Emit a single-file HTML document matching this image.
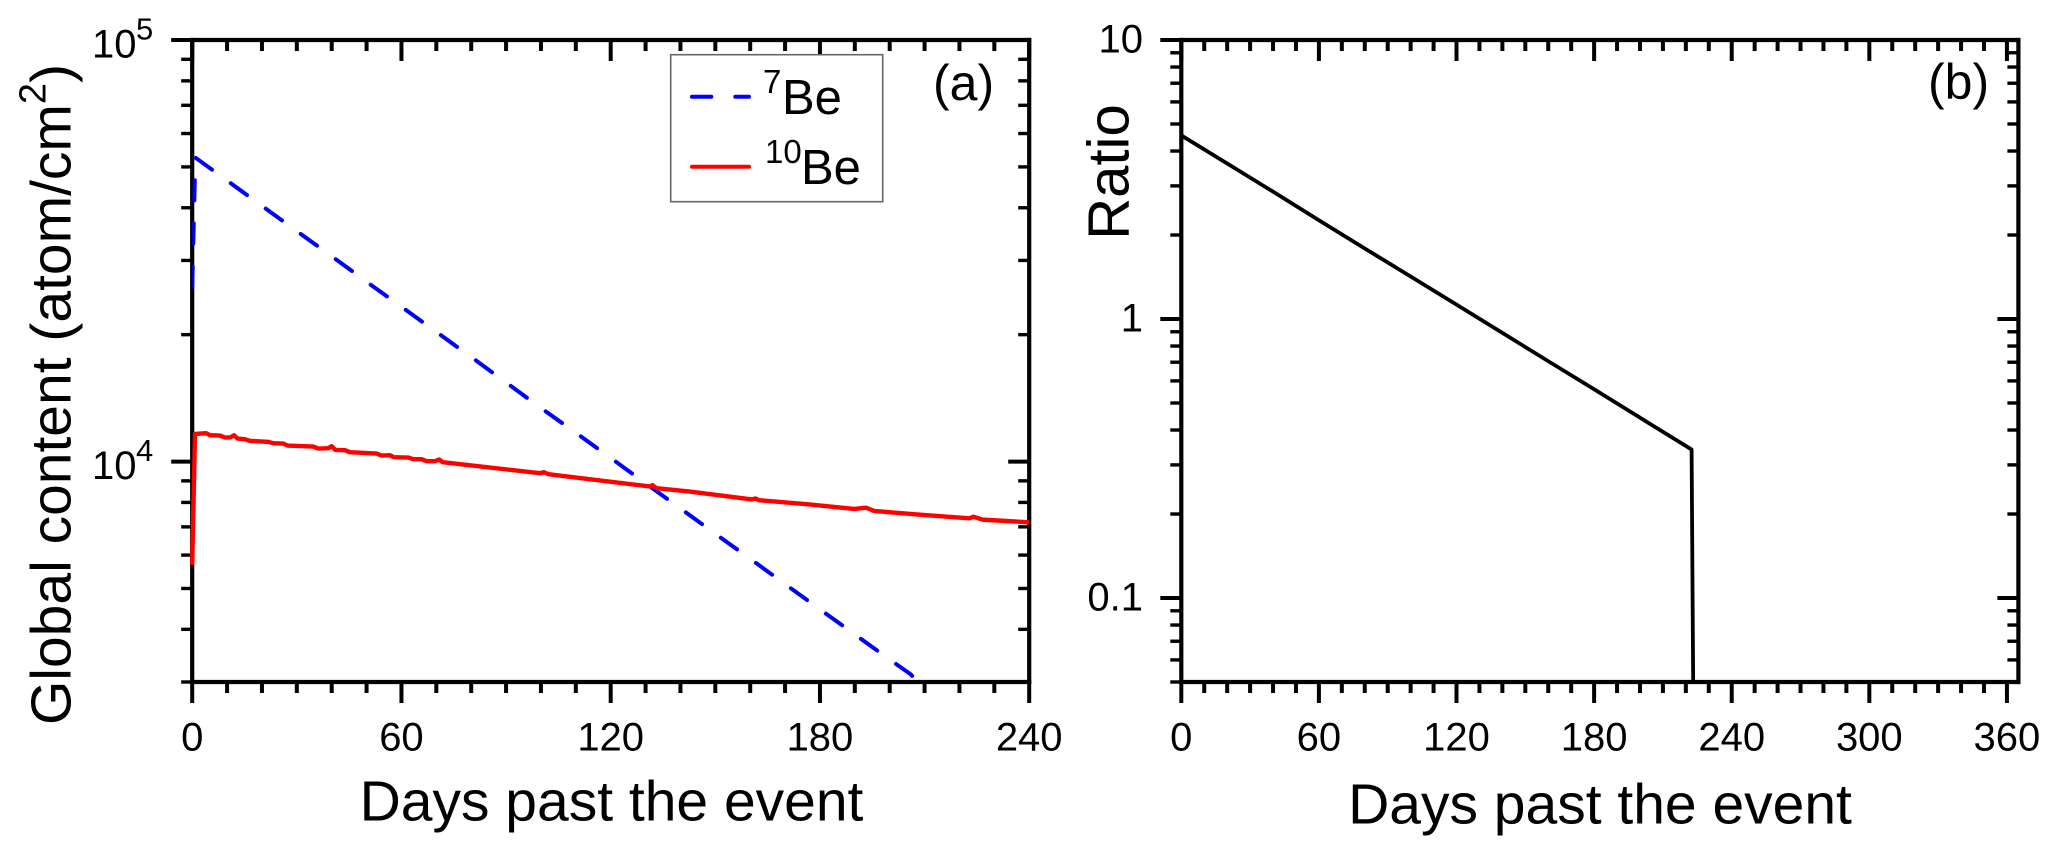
<!DOCTYPE html>
<html lang="en">
<head>
<meta charset="utf-8">
<title>Global content and ratio of beryllium isotopes</title>
<style>
html,body{margin:0;padding:0;background:#fff;width:2059px;height:854px;overflow:hidden}
svg{display:block}
text{font-family:"Liberation Sans",Arial,sans-serif;fill:#000}
</style>
</head>
<body>
<svg id="figure" width="2059" height="854" viewBox="0 0 2059 854" xmlns="http://www.w3.org/2000/svg">
  <defs>
    <clipPath id="clip-a-blue"><rect x="192.2" y="38" width="837" height="644"/></clipPath>
    <clipPath id="clip-a-red"><rect x="190" y="38" width="839.2" height="644"/></clipPath>
    <clipPath id="clip-b"><rect x="1181" y="38" width="837" height="645"/></clipPath>
  </defs>
  <rect x="0" y="0" width="2059" height="854" fill="#fff"/>
  <g id="panel-a"></g>
  <g id="panel-b"></g>

  <text x="611.5" y="820.5" font-size="57" text-anchor="middle">Days past the event</text>
  <text x="1600" y="823.5" font-size="57" text-anchor="middle">Days past the event</text>
  <text transform="translate(70.5 394.5) rotate(-90)" font-size="57" text-anchor="middle">Global content (atom/cm<tspan font-size="38" dy="-25">2</tspan><tspan dy="25">)</tspan></text>
  <text transform="translate(1128.5 172) rotate(-90)" font-size="58" text-anchor="middle">Ratio</text>
  <text x="933" y="100" font-size="50">(a)</text>
  <text x="1928" y="99" font-size="50">(b)</text>

  <g>
    <rect x="670.7" y="54.7" width="212" height="147" fill="#fff" stroke="#666" stroke-width="1.6"/>
    <line x1="692" y1="96.7" x2="749" y2="96.7" stroke="#0000ff" stroke-width="4" stroke-linecap="round" stroke-dasharray="19.3 24"/>
    <line x1="692" y1="166.7" x2="749" y2="166.7" stroke="#ff0000" stroke-width="4" stroke-linecap="round"/>
    <text font-size="49"><tspan x="763" y="93" font-size="33">7</tspan><tspan x="782" y="114">Be</tspan></text>
    <text font-size="49"><tspan x="765" y="163" font-size="33">10</tspan><tspan x="801" y="184">Be</tspan></text>
  </g>
</svg>

<script>
// Panel (a) data
const be7Days = [0, 0.9, 10, 20, 30, 40, 50, 60, 70, 80, 90, 100, 110, 120, 130, 140, 150, 160, 170, 180, 190, 200, 206, 215];
const be7Content = [25800, 52600, 46400, 40400, 35200, 30700, 26700, 23300, 20300, 17700, 15400, 13400, 11700, 10200, 8880, 7740, 6740, 5880, 5120, 4460, 3890, 3390, 3130, 2600];
const be10Days = [0, 0.8, 4, 5.1, 8, 9.4, 11, 12, 13, 15.1, 16.6, 21.8, 23.3, 26.1, 27.3, 34.7, 36.2, 39, 40, 41, 43.8, 45.2, 52.9, 54.3, 56.7, 57.8, 62, 63.4, 65.8, 67.2, 69.6, 70.8, 71.8, 99.7, 100.9, 102.1, 131.2, 132, 133.1, 142.7, 148.3, 160.5, 161.5, 162.5, 176.6, 189.8, 193.2, 195.5, 208.7, 222.8, 224, 226.6, 240];
const be10Content = [5690, 11630, 11675, 11546, 11525, 11400, 11420, 11546, 11339, 11299, 11197, 11136, 11055, 11036, 10914, 10855, 10737, 10757, 10875, 10659, 10640, 10524, 10448, 10335, 10354, 10241, 10223, 10130, 10130, 10020, 10020, 10112, 9966, 9385, 9436, 9334, 8728, 8790, 8648, 8490, 8375, 8130, 8177, 8100, 7917, 7720, 7775, 7637, 7482, 7333, 7400, 7283, 7175];

// Panel (b) data
const ratioDays = [0, 20, 40, 60, 80, 100, 120, 140, 160, 180, 200, 222.5, 223.2];
const ratioValues = [4.55, 3.61, 2.86, 2.26, 1.79, 1.42, 1.126, 0.892, 0.706, 0.560, 0.443, 0.3405, 0.049];

// Tick values and labels
const xMajorA = [0, 60, 120, 180, 240];
const xMajorB = [0, 60, 120, 180, 240, 300, 360];
const xLabelsA = ["0", "60", "120", "180", "240"];
const xLabelsB = ["0", "60", "120", "180", "240", "300", "360"];
const xMinorStep = 10;
const yMajorA = [100000, 10000];
const yBaseLabelsA = ["10", "10"];
const yExpLabelsA = ["5", "4"];
const yMinorA = [90000, 80000, 70000, 60000, 50000, 40000, 30000, 20000, 9000, 8000, 7000, 6000, 5000, 4000, 3000];
const yMajorB = [10, 1, 0.1];
const yLabelsB = ["10", "1", "0.1"];
const yMinorB = [9, 8, 7, 6, 5, 4, 3, 2, 0.9, 0.8, 0.7, 0.6, 0.5, 0.4, 0.3, 0.2, 0.09, 0.08, 0.07, 0.06, 0.05];

const NS = 'http://www.w3.org/2000/svg';
const TOP = 40, BOTTOM = 682;
const MAJOR = 21, MINOR = 11, TICK_W = 4, MINOR_H = 3.4, SPINE_W = 4.2;

function logScale(domMax, domMin) {
  return v => TOP + (Math.log10(domMax) - Math.log10(v)) / (Math.log10(domMax) - Math.log10(domMin)) * (BOTTOM - TOP);
}
function linScale(left, right, domMax) {
  return v => left + v / domMax * (right - left);
}
function addLine(parent, x1, y1, x2, y2, width, color) {
  const el = document.createElementNS(NS, 'line');
  el.setAttribute('x1', x1);
  el.setAttribute('y1', y1);
  el.setAttribute('x2', x2);
  el.setAttribute('y2', y2);
  el.setAttribute('stroke', color || '#000');
  el.setAttribute('stroke-width', width);
  parent.appendChild(el);
  return el;
}
function addText(parent, x, y, size, anchor, str) {
  const el = document.createElementNS(NS, 'text');
  el.setAttribute('x', x);
  el.setAttribute('y', y);
  el.setAttribute('font-size', size);
  el.setAttribute('text-anchor', anchor);
  el.textContent = str;
  parent.appendChild(el);
  return el;
}
function addSeries(parent, days, vals, sx, sy, color, width, clip) {
  const el = document.createElementNS(NS, 'path');
  el.setAttribute('d', days.map((d, i) => (i ? 'L' : 'M') + sx(d).toFixed(2) + ' ' + sy(vals[i]).toFixed(2)).join(' '));
  el.setAttribute('fill', 'none');
  el.setAttribute('stroke', color);
  el.setAttribute('stroke-width', width);
  el.setAttribute('stroke-linejoin', 'round');
  el.setAttribute('clip-path', 'url(#' + clip + ')');
  parent.appendChild(el);
  return el;
}
function drawFrame(parent, left, right, sx, sy, xMajor, xMax, yMajor, yMinor) {
  // X ticks on bottom (outward) and top (inward)
  for (let d = 0; d <= xMax; d += xMinorStep) {
    const isMajor = xMajor.indexOf(d) >= 0;
    const len = isMajor ? MAJOR : MINOR;
    const x = sx(d);
    const bottomTick = addLine(parent, x, BOTTOM, x, BOTTOM + len, TICK_W);
    
    
    const topTick = addLine(parent, x, TOP, x, TOP + len, TICK_W);
    
    
  }
  // Y ticks on left (outward) and right (inward)
  yMajor.forEach(v => {
    const y = sy(v);
    const leftTick = addLine(parent, left - MAJOR, y, left, y, TICK_W);
    
    
    const rightTick = addLine(parent, right - MAJOR, y, right, y, TICK_W);
    
    
  });
  yMinor.forEach(v => {
    const y = sy(v);
    const leftTick = addLine(parent, left - MINOR, y, left, y, MINOR_H);
    
    
    const rightTick = addLine(parent, right - MINOR, y, right, y, MINOR_H);
    
    
  });
  // Spines
  const h = SPINE_W / 2;
  const spineLeft = addLine(parent, left, TOP - h, left, BOTTOM + h, SPINE_W);
  
  
  const spineRight = addLine(parent, right, TOP - h, right, BOTTOM + h, SPINE_W);
  
  
  const spineTop = addLine(parent, left - h, TOP, right + h, TOP, SPINE_W);
  
  
  const spineBottom = addLine(parent, left - h, BOTTOM, right + h, BOTTOM, SPINE_W);
  
  
}

// Panel (a)
const panelA = document.getElementById('panel-a');
const xA = linScale(192.2, 1029.2, 240);
const yA = logScale(100000, 3000);
drawFrame(panelA, 192.2, 1029.2, xA, yA, xMajorA, 240, yMajorA, yMinorA);
xMajorA.forEach((d, i) => {
  const lbl = addText(panelA, xA(d), 750.5, 40, 'middle', xLabelsA[i]);
  
  
});
yMajorA.forEach((v, i) => {
  const base = addText(panelA, 136.5, yA(v) + 17.5, 40, 'end', yBaseLabelsA[i]);
  
  
  const exp = addText(panelA, 136, yA(v) - 0.5, 31, 'start', yExpLabelsA[i]);
  
  
});
const be7Line = addSeries(panelA, be7Days, be7Content, xA, yA, '#0000ff', 4, 'clip-a-blue');
be7Line.setAttribute('stroke-dasharray', '20 23.2');
be7Line.setAttribute('stroke-dashoffset', '-1.4');
be7Line.setAttribute('stroke-linecap', 'round');


const be10Line = addSeries(panelA, be10Days, be10Content, xA, yA, '#ff0000', 4.4, 'clip-a-red');



// Panel (b)
const panelB = document.getElementById('panel-b');
const xB = linScale(1181.3, 2018.4, 365);
const yB = logScale(10, 0.05);
drawFrame(panelB, 1181.3, 2018.4, xB, yB, xMajorB, 365, yMajorB, yMinorB);
xMajorB.forEach((d, i) => {
  const lbl = addText(panelB, xB(d), 750.5, 40, 'middle', xLabelsB[i]);
  
  
});
yMajorB.forEach((v, i) => {
  const lbl = addText(panelB, 1143, yB(v) + 12.7, 40, 'end', yLabelsB[i]);
  
  
});
const ratioLine = addSeries(panelB, ratioDays, ratioValues, xB, yB, '#000', 3.8, 'clip-b');


</script>
</body>
</html>
